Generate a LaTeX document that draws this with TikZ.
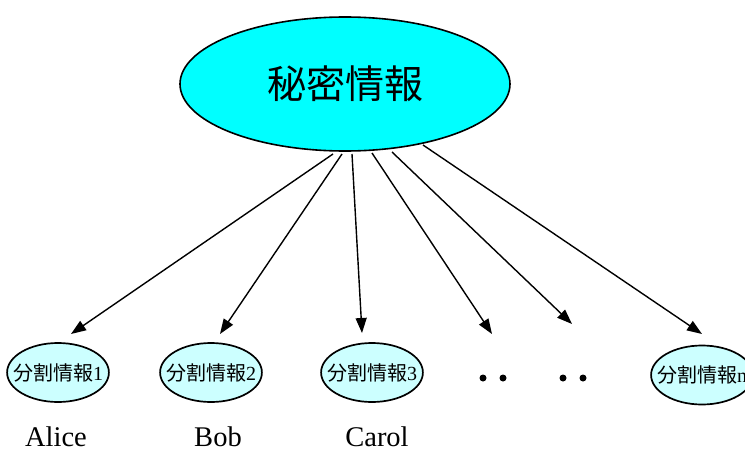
\documentclass[tikz,border=0pt]{standalone}
\usepackage{fontspec}
\setmainfont{Liberation Serif}
\newfontfamily\cjk{Noto Sans CJK JP}
\usetikzlibrary{shapes.geometric,arrows.meta}
\definecolor{maincyan}{RGB}{0,255,255}
\definecolor{lightcyan}{RGB}{204,255,255}
\tikzset{
  mainell/.style={ellipse,draw=black,line width=1.6pt,fill=maincyan,minimum width=330pt,minimum height=134pt,inner sep=0pt},
  shareell/.style={ellipse,draw=black,line width=1.7pt,fill=lightcyan,minimum width=100pt,minimum height=59pt,inner xsep=-9pt,inner ysep=0pt,font=\fontsize{20}{20}\selectfont},
  person/.style={anchor=base,inner sep=0pt,font=\fontsize{28.5}{28.5}\selectfont},
  dotmark/.style={circle,fill=black,inner sep=0pt,minimum size=7pt},
  arr/.style={line width=1.4pt,-{Triangle[length=15pt,width=11pt]}}
}
\begin{document}
\begin{tikzpicture}[x=1pt,y=-1pt]
\useasboundingbox (0,0) rectangle (745,450);
\node[mainell] (main) at (345,84) {\cjk\fontsize{39}{39}\selectfont 秘密情報};
\node[shareell] (e1) at (58,372.5) {\cjk 分割情報\rmfamily 1};
\node[shareell] (e2) at (211,372.5) {\cjk 分割情報\rmfamily 2};
\node[shareell] (e3) at (372,372.5) {\cjk 分割情報\rmfamily 3};
\node[shareell] (en) at (702,375) {\cjk 分割情報\rmfamily n};
\node[dotmark] (d1) at (483,378) {};
\node[dotmark] (d2) at (503,378) {};
\node[dotmark] (d3) at (563,378) {};
\node[dotmark] (d4) at (583,378) {};
\node[person] (alice) at (56,446) {Alice};
\node[person] (bob) at (218,446) {Bob};
\node[person] (carol) at (377,446) {Carol};
\coordinate (s1) at (333,154);
\coordinate (s2) at (342,154);
\coordinate (s3) at (352,154);
\coordinate (s4) at (372,153);
\coordinate (s5) at (392,152);
\coordinate (s6) at (423,145);
\coordinate (t1) at (71,334);
\coordinate (t2) at (220,334);
\coordinate (t3) at (362,333);
\coordinate (t4) at (492,334);
\coordinate (t5) at (572,324);
\coordinate (t6) at (702,334);
\draw[arr] (s1) -- (t1);
\draw[arr] (s2) -- (t2);
\draw[arr] (s3) -- (t3);
\draw[arr] (s4) -- (t4);
\draw[arr] (s5) -- (t5);
\draw[arr] (s6) -- (t6);
\end{tikzpicture}
\end{document}
